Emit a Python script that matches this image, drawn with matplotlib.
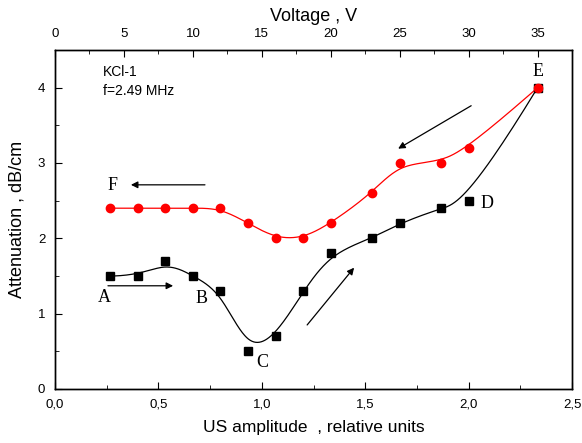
import numpy as np
import matplotlib.pyplot as plt
from matplotlib.ticker import FuncFormatter, MultipleLocator

# voltage steps, converted to relative US amplitude (35 V ~ 2.33)
voltage = [4, 6, 8, 10, 12, 14, 16, 18, 20, 23, 25, 28, 30, 35]
amplitude = [v / 15 for v in voltage]

atten_up = [1.5, 1.5, 1.7, 1.5, 1.3, 0.5, 0.7, 1.3, 1.8, 2.0, 2.2, 2.4, 2.5, 4.0]
atten_down = [2.4, 2.4, 2.4, 2.4, 2.4, 2.2, 2.0, 2.0, 2.2, 2.6, 3.0, 3.0, 3.2, 4.0]

point_labels = ["A", "B", "C", "D", "E", "F"]
label_pos = [(0.237, 1.21), (0.706, 1.20), (1.001, 0.35), (2.089, 2.46), (2.336, 4.21), (0.280, 2.70)]


def bspline(px, py, n=500):
    # clamped cubic B-spline, data points used as control points (Origin style)
    k = 3
    m = len(px)
    knots = np.concatenate([[0.0] * k, np.linspace(0, 1, m - k + 1), [1.0] * k])
    t = np.linspace(0, 1, n)
    N = np.zeros((len(knots) - 1, n))
    for i in range(len(knots) - 1):
        N[i] = (knots[i] <= t) & (t < knots[i + 1])
    last = np.max(np.nonzero(knots < 1.0))
    N[last, -1] = 1.0
    for d in range(1, k + 1):
        Nn = np.zeros((len(knots) - 1 - d, n))
        for i in range(len(knots) - 1 - d):
            a = knots[i + d] - knots[i]
            b = knots[i + d + 1] - knots[i + 1]
            w1 = (t - knots[i]) / a if a > 0 else 0.0
            w2 = (knots[i + d + 1] - t) / b if b > 0 else 0.0
            Nn[i] = w1 * N[i] + w2 * N[i + 1]
        N = Nn
    return N.T @ np.array(px), N.T @ np.array(py)


plt.rcParams.update({
    "font.family": "Liberation Sans",
    "font.size": 10,
    "axes.linewidth": 1.0,
})

fig = plt.figure(figsize=(5.82, 4.43), dpi=100)
ax = fig.add_axes([0.0945, 0.1219, 0.8885, 0.7653])

bx, by = bspline(amplitude, atten_up)
ax.plot(bx, by, color="black", lw=0.9)
rx, ry = bspline(amplitude, atten_down)
ax.plot(rx, ry, color="red", lw=0.9)
ax.plot(amplitude, atten_up, "s", color="black", ms=5.5)
ax.plot(amplitude, atten_down, "o", color="red", ms=6)

ax.set_xlim(0, 2.5)
ax.set_ylim(0, 4.5)
ax.xaxis.set_major_locator(MultipleLocator(0.5))
ax.xaxis.set_minor_locator(MultipleLocator(0.25))
ax.yaxis.set_major_locator(MultipleLocator(1))
ax.yaxis.set_minor_locator(MultipleLocator(0.5))
ax.xaxis.set_major_formatter(FuncFormatter(lambda v, _: f"{v:.1f}".replace(".", ",")))
ax.tick_params(which="both", direction="in", top=False, right=False, labelsize=9.5)
ax.tick_params(which="major", length=5, pad=7)
ax.tick_params(which="minor", length=3)
ax.set_xlabel("US amplitude  , relative units", fontsize=12.5, labelpad=7)
ax.set_ylabel("Attenuation , dB/cm", fontsize=13, labelpad=9)

top = ax.twiny()
top.set_xlim(0, 37.5)
top.xaxis.set_major_locator(MultipleLocator(5))
top.xaxis.set_minor_locator(MultipleLocator(2.5))
top.tick_params(which="both", direction="in", labelsize=9.5)
top.tick_params(which="major", length=5, pad=7)
top.tick_params(which="minor", length=3)
top.set_xlabel("Voltage , V", fontsize=13, labelpad=5)

for lab, (x, y) in zip(point_labels, label_pos):
    ax.text(x, y, lab, family="Liberation Serif", fontsize=13, ha="center", va="center")

ax.text(0.232, 4.21, "KCl-1", fontsize=10, va="center")
ax.text(0.232, 3.95, "f=2.49 MHz", fontsize=10, va="center")

arrows = [
    ((0.725, 2.71), (0.367, 2.71)),
    ((0.256, 1.37), (0.571, 1.37)),
    ((1.219, 0.85), (1.446, 1.61)),
    ((2.012, 3.76), (1.659, 3.19)),
]
for start, end in arrows:
    ax.annotate("", xy=end, xytext=start,
                arrowprops=dict(arrowstyle="-|>", color="black", lw=0.9,
                                mutation_scale=10, shrinkA=0, shrinkB=0))

fig.savefig("out.png", dpi=100)
